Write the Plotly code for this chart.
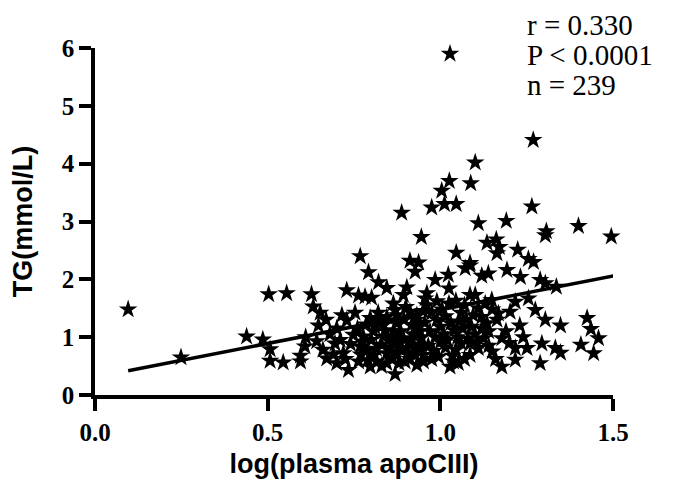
import plotly.graph_objects as go

# log(plasma apoCIII) values and TG (mmol/L)
apo_x = [
    1.028, 1.269, 1.101, 1.026, 1.088, 1.004, 0.975, 1.012, 1.046, 1.265,
    0.888, 1.110, 1.191, 1.307, 1.304, 1.400, 1.495, 0.945, 1.135, 1.162,
    1.171, 1.164, 1.224, 1.046, 1.086, 1.255, 1.270, 0.768, 0.912, 0.937,
    0.927, 0.792, 0.821, 0.845, 0.729, 0.763, 0.782, 0.801, 0.903, 0.893,
    0.961, 0.956, 0.985, 1.023, 1.025, 1.072, 1.086, 1.120, 1.139, 1.193,
    1.232, 1.289, 1.304, 1.336, 1.086, 1.101, 1.149, 1.217, 1.255, 1.275,
    1.304, 1.348, 1.425, 1.436, 1.458, 1.407, 1.444, 1.178, 1.217, 1.251,
    1.294, 1.333, 1.348, 1.217, 1.178, 1.289, 1.168, 1.202, 1.164, 1.120,
    1.135, 1.110, 1.086, 1.086, 1.038, 1.052, 1.028, 0.951,
    0.096, 0.249, 0.439, 0.486, 0.503, 0.507, 0.507, 0.555, 0.627, 0.632,
    0.652, 0.669, 0.647, 0.545, 0.595, 0.595, 0.610, 0.608, 0.671, 0.642,
    0.695, 0.719, 0.734, 0.763, 0.797, 0.869, 0.816, 0.830, 0.768, 0.748,
    0.777, 0.806, 0.835, 0.864, 0.835, 0.874, 0.893, 0.903, 0.927, 0.874,
    0.845, 0.898, 0.932, 0.917, 0.941, 0.932, 0.874, 0.912, 0.946, 0.951,
    0.864, 0.869, 0.753, 0.729, 0.797,
    0.960, 0.975, 0.990, 1.000, 1.010, 1.020, 0.965, 0.980, 0.995, 1.005,
    1.015, 1.030, 1.040, 1.050, 1.060, 1.045, 1.035, 1.070, 1.060, 1.075,
    1.090, 1.100, 1.080, 1.095, 1.110, 1.120, 1.105, 1.125, 1.140, 0.970,
    0.985, 0.955, 1.025, 1.045, 0.990, 1.065, 1.015, 1.070, 0.975, 1.150,
    1.130, 1.000, 1.055,
    0.760, 0.775, 0.790, 0.805, 0.785, 0.800, 0.815, 0.825, 0.840, 0.850,
    0.855, 0.860, 0.870, 0.880, 0.885, 0.895, 0.900, 0.905, 0.915, 0.920,
    0.925, 0.935, 0.940, 0.945, 0.820, 0.845, 0.880, 0.830, 0.790, 0.770,
    0.845, 0.810, 0.865, 0.890, 0.912, 0.930, 0.950,
    0.660, 0.680, 0.700, 0.710, 0.725, 0.690, 0.740, 0.715, 0.700,
    1.150, 1.190, 1.230, 1.160, 1.200, 1.240, 1.140,
]
tg_y = [
    5.90, 4.41, 4.02, 3.70, 3.66, 3.53, 3.24, 3.30, 3.30, 3.26,
    3.15, 2.97, 3.01, 2.83, 2.76, 2.92, 2.74, 2.73, 2.63, 2.69,
    2.56, 2.45, 2.51, 2.46, 2.28, 2.35, 2.30, 2.40, 2.32, 2.29,
    2.13, 2.12, 1.95, 1.85, 1.81, 1.72, 1.70, 1.68, 1.86, 1.73,
    1.76, 1.67, 1.99, 2.08, 1.84, 2.19, 2.24, 2.06, 2.10, 2.16,
    2.04, 1.99, 1.93, 1.87, 1.73, 1.73, 1.64, 1.61, 1.67, 1.47,
    1.30, 1.20, 1.33, 1.14, 0.98, 0.87, 0.72, 0.98, 0.81, 0.81,
    0.89, 0.81, 0.73, 0.61, 0.49, 0.55, 1.41, 1.44, 1.30, 1.15,
    1.24, 0.81, 0.89, 0.69, 0.58, 0.55, 0.49, 0.58,
    1.48, 0.65, 1.01, 0.96, 1.74, 0.79, 0.59, 1.76, 1.74, 1.53,
    1.42, 1.30, 1.20, 0.56, 0.68, 0.58, 1.00, 0.84, 0.63, 0.93,
    0.89, 0.72, 0.43, 0.58, 0.49, 0.36, 0.58, 0.87, 0.84, 1.04,
    1.01, 1.10, 1.01, 1.10, 1.21, 1.24, 0.98, 0.81, 0.69, 0.72,
    0.72, 0.58, 0.52, 1.21, 1.10, 1.38, 1.38, 1.44, 0.87, 0.69,
    1.58, 1.47, 1.42, 1.29, 1.33,
    1.55, 1.42, 1.30, 1.18, 1.05, 0.95, 0.85, 0.76, 0.66, 1.48,
    1.36, 1.24, 1.12, 1.00, 0.90, 0.78, 0.68, 1.55, 1.42, 1.30,
    1.18, 1.05, 0.97, 1.38, 1.50, 1.35, 0.92, 0.98, 1.10, 1.10,
    1.00, 1.25, 1.58, 1.63, 1.62, 1.15, 0.82, 0.62, 0.62, 1.48,
    1.58, 0.92, 1.27,
    1.15, 0.92, 0.78, 0.68, 1.22, 0.95, 0.80, 1.30, 1.12, 0.95,
    0.82, 0.62, 1.00, 0.88, 1.10, 1.30, 1.52, 0.70, 0.95, 1.05,
    0.83, 1.20, 0.75, 1.00, 1.42, 1.35, 0.55, 0.50, 0.60, 0.70,
    0.55, 1.18, 0.88, 0.78, 0.62, 1.30, 1.45,
    0.78, 1.05, 1.15, 0.95, 0.62, 0.70, 0.88, 1.38, 0.55,
    0.75, 1.10, 1.20, 0.62, 0.90, 1.00, 0.85,
]

# regression line end points
fit_x = [0.096, 1.502]
fit_y = [0.42, 2.06]

x_ticks = [0.0, 0.5, 1.0, 1.5]
x_tick_labels = ["0.0", "0.5", "1.0", "1.5"]
y_ticks = [0, 1, 2, 3, 4, 5, 6]

stats_text = ["r = 0.330", "P < 0.0001", "n = 239"]

fig = go.Figure()
fig.add_trace(go.Scatter(
    x=apo_x, y=tg_y, mode="markers",
    marker=dict(symbol="star", size=14, color="black", line=dict(width=0)),
    cliponaxis=False, showlegend=False,
))
fig.add_trace(go.Scatter(
    x=fit_x, y=fit_y, mode="lines",
    line=dict(color="black", width=3.5),
    cliponaxis=False, showlegend=False,
))

tick_font = dict(family="Liberation Serif", size=25, color="black", weight="bold")
title_font = dict(family="Liberation Sans", size=27, color="black", weight="bold")

fig.update_layout(
    width=667, height=480,
    margin=dict(l=87, r=62, t=40, b=93),
    paper_bgcolor="white", plot_bgcolor="white",
    xaxis=dict(
        range=[0, 1.5], tickmode="array", tickvals=x_ticks, ticktext=x_tick_labels,
        showline=True, linecolor="black", linewidth=3.5, mirror=False,
        ticks="outside", ticklen=12, tickwidth=3.5, tickcolor="black",
        showgrid=False, zeroline=False, automargin=False,
        tickfont=tick_font,
        title=dict(text="log(plasma apoCIII)", font=title_font, standoff=10),
    ),
    yaxis=dict(
        range=[0, 6], tickmode="array", tickvals=y_ticks,
        showline=True, linecolor="black", linewidth=3.5, mirror=False,
        ticks="outside", ticklen=12, tickwidth=3.5, tickcolor="black",
        showgrid=False, zeroline=False, automargin=False,
        tickfont=tick_font,
        title=dict(text="TG(mmol/L)", font=title_font, standoff=32),
    ),
)
for i, t in enumerate(stats_text):
    fig.add_annotation(
        text=t, xref="paper", yref="paper",
        x=0.831, y=1.0663 - i * 0.0865, xanchor="left", yanchor="middle",
        showarrow=False,
        font=dict(family="Liberation Serif", size=29, color="black"),
    )

fig.write_html("out.html")
